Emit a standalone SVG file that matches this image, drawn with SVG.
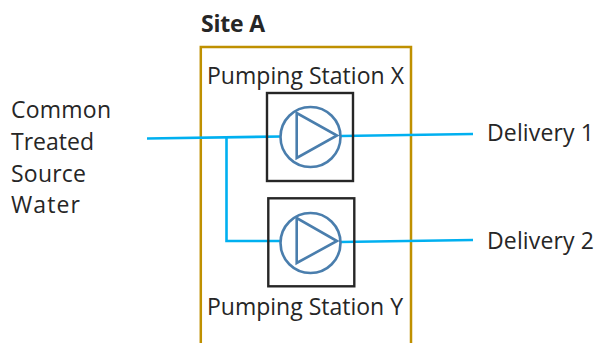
<svg xmlns="http://www.w3.org/2000/svg" width="598" height="343" viewBox="0 0 598 343">
<style>
text{font-family:"Open Sans","Noto Sans",sans-serif;font-size:23px;fill:#262626}
.c{fill:none;stroke:#00b0f0;stroke-width:2.600}
.p{fill:none;stroke:#4a7ead;stroke-width:2.600}
.b{fill:none;stroke:#262626;stroke-width:2.400}
</style>
<rect width="598" height="343" fill="#fff"/>
<g id="site-a"><path d="M200.800 343V47H411V343" fill="none" stroke="#bf9000" stroke-width="2.500"/><text x="201" y="32" font-weight="700" textLength="64">Site A</text></g>
<g id="connectors">
<path class="c" d="M147 138.500L281 136.500"/><path class="c" d="M226.500 138V241H281"/><path class="c" d="M341 136L473 134"/><path class="c" d="M340 242L473 240"/>
</g>
<g id="station-x"><rect class="b" x="267" y="93" width="86" height="88"/><circle class="p" cx="310.500" cy="137" r="30"/><path class="p" d="M296.700 113V158L337 135.500Z"/><text x="207" y="84" textLength="197">Pumping Station X</text></g>
<g id="station-y"><rect class="b" x="268.300" y="198.300" width="86" height="88"/><circle class="p" cx="310.500" cy="243" r="30"/><path class="p" d="M296.700 218V263L337 241Z"/><text x="207" y="315" textLength="196">Pumping Station Y</text></g>
<g id="source"><text x="11" y="118" textLength="100">Common</text><text x="11" y="150" textLength="83">Treated</text><text x="11" y="182" textLength="75">Source</text><text x="11" y="213" textLength="69">Water</text></g>
<g id="delivery-1"><text x="487" y="141" textLength="107">Delivery 1</text></g>
<g id="delivery-2"><text x="487" y="249" textLength="107">Delivery 2</text></g>
</svg>
